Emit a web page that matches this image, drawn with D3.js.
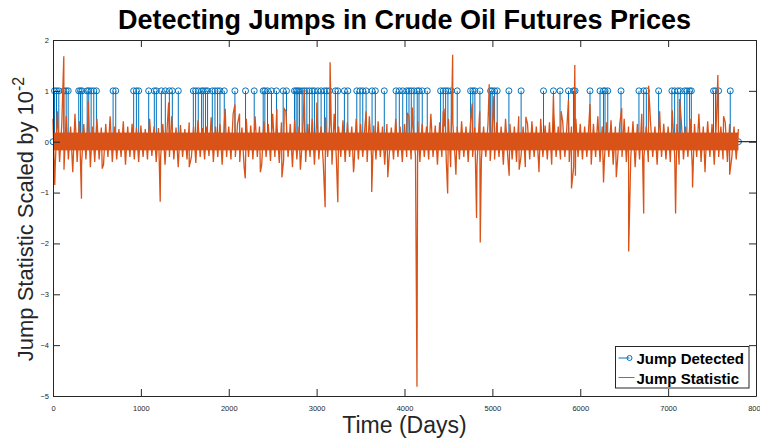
<!DOCTYPE html>
<html>
<head>
<meta charset="utf-8">
<script src="https://cdn.jsdelivr.net/npm/d3@7"></script>
<style>
  body { margin: 0; background: #fff; }
  text { font-family: "Liberation Sans", Arial, Helvetica, sans-serif; fill: #262626; }
</style>
</head>
<body>
<div id="myPlot" style="width:760px;height:439px"></div>
<script>
// x ticks (days) and y ticks (scaled by 1e-2)
const xTicks = [0, 1000, 2000, 3000, 4000, 5000, 6000, 7000, 8000]
const yTicks = [-5, -4, -3, -2, -1, 0, 1, 2]

// first and last day of the series
const firstDay = 0
const lastDay = 7800

// days where a jump was detected (stem value 1)
const jumpDays = [17, 40, 66, 123, 150, 173, 293, 313, 332, 389, 407, 434, 464, 494, 684, 714,
    918, 949, 975, 1089, 1153, 1176, 1233, 1278, 1324, 1358, 1426, 1597, 1623, 1653, 1691, 1710,
    1736, 1759, 1813, 1843, 1873, 1900, 1949, 2070, 2191, 2290, 2392, 2411, 2441, 2486, 2543, 2619,
    2657, 2748, 2767, 2786, 2805, 2835, 2861, 2889, 2918, 2949, 2975, 3014, 3051, 3089, 3116, 3145,
    3214, 3241, 3316, 3355, 3457, 3494, 3525, 3563, 3631, 3668, 3770, 3903, 3941, 3980, 4025, 4051,
    4077, 4108, 4145, 4165, 4202, 4259, 4411, 4441, 4468, 4494, 4532, 4600, 4752, 4778, 4801, 4858,
    4980, 4998, 5025, 5055, 5188, 5327, 5582, 5695, 5770, 5866, 5923, 5941, 6111, 6225, 6264, 6282,
    6313, 6464, 6668, 6722, 6752, 6892, 7043, 7074, 7111, 7139, 7188, 7214, 7244, 7264, 7517, 7540,
    7574, 7707]

// jump statistic: envelope of the dense band, one value pair per 50 days
const binDays = 50
const bandHi = [0.45, 0.6, 0.35, 0.5, 0.3, 0.55, 0.4, 0.35, 0.62, 0.3, 0.45, 0.28, 0.35, 0.5, 0.3, 0.25, 0.4, 0.3, 0.35, 0.28,
    0.32, 0.25, 0.45, 0.3, 0.27, 0.35, 0.3, 0.5, 0.28, 0.33, 0.25, 0.38, 0.3, 0.42, 0.27, 0.3, 0.48, 0.3, 0.35, 0.4,
    0.3, 0.55, 0.35, 0.28, 0.45, 0.32, 0.5, 0.3, 0.4, 0.35, 0.55, 0.3, 0.38, 0.6, 0.35, 0.42, 0.3, 0.5, 0.35, 0.45,
    0.4, 0.3, 0.48, 0.35, 0.55, 0.3, 0.42, 0.38, 0.3, 0.45, 0.35, 0.3, 0.5, 0.32, 0.4, 0.3, 0.35, 0.28, 0.45, 0.3,
    0.35, 0.5, 0.3, 0.4, 0.35, 0.3, 0.55, 0.32, 0.38, 0.3, 0.45, 0.35, 0.3, 0.4, 0.3, 0.35, 0.28, 0.42, 0.3, 0.35,
    0.3, 0.38, 0.3, 0.45, 0.35, 0.3, 0.5, 0.3, 0.35, 0.4, 0.3, 0.45, 0.32, 0.38, 0.55, 0.3, 0.4, 0.35, 0.3, 0.45,
    0.35, 0.3, 0.4, 0.35, 0.5, 0.3, 0.38, 0.42, 0.3, 0.35, 0.45, 0.3, 0.4, 0.35, 0.55, 0.3, 0.38, 0.3, 0.45, 0.35,
    0.3, 0.5, 0.35, 0.4, 0.3, 0.45, 0.35, 0.55, 0.3, 0.4, 0.35, 0.45, 0.3, 0.38, 0.35, 0.3, 0.25]
const bandLo = [-0.5, -0.4, -0.55, -0.35, -0.6, -0.4, -0.45, -0.35, -0.5, -0.4, -0.35, -0.45, -0.3, -0.4, -0.35, -0.3, -0.45, -0.3, -0.35, -0.4,
    -0.3, -0.35, -0.28, -0.4, -0.3, -0.45, -0.3, -0.35, -0.5, -0.3, -0.35, -0.3, -0.42, -0.3, -0.35, -0.28, -0.4, -0.3, -0.45, -0.3,
    -0.35, -0.3, -0.4, -0.5, -0.3, -0.35, -0.3, -0.45, -0.3, -0.38, -0.3, -0.42, -0.35, -0.3, -0.5, -0.35, -0.3, -0.4, -0.3, -0.45,
    -0.35, -0.4, -0.3, -0.45, -0.35, -0.3, -0.4, -0.3, -0.5, -0.35, -0.3, -0.4, -0.3, -0.35, -0.3, -0.45, -0.3, -0.35, -0.3, -0.4,
    -0.3, -0.35, -0.28, -0.4, -0.3, -0.35, -0.3, -0.45, -0.3, -0.35, -0.5, -0.3, -0.35, -0.3, -0.4, -0.3, -0.45, -0.35, -0.3, -0.38,
    -0.35, -0.3, -0.45, -0.3, -0.35, -0.4, -0.3, -0.5, -0.35, -0.3, -0.4, -0.3, -0.35, -0.45, -0.3, -0.35, -0.3, -0.4, -0.5, -0.3,
    -0.35, -0.3, -0.45, -0.3, -0.4, -0.35, -0.3, -0.45, -0.35, -0.3, -0.4, -0.3, -0.5, -0.35, -0.3, -0.4, -0.3, -0.45, -0.3, -0.35,
    -0.4, -0.3, -0.45, -0.35, -0.3, -0.5, -0.3, -0.4, -0.35, -0.3, -0.45, -0.3, -0.35, -0.4, -0.3, -0.35, -0.3]

// solid core of the band
const coreHi = 0.18
const coreLo = -0.17

// larger excursions of the jump statistic: day, value
const spikeDays = [20, 123, 324, 400, 560, 1220, 1316, 1550, 1960, 2070, 2123, 2188, 2360, 2548, 2605, 2631,
    2815, 2858, 3002, 3097, 3153, 3241, 3420, 3563, 3627, 3810, 4032, 4089, 4142, 4441, 4460, 4491,
    4548, 4585, 4770, 4820, 4856, 4862, 4964, 5017, 5191, 5305, 5381, 5530, 5695, 5782, 5866, 5900,
    5938, 5945, 6111, 6265, 6410, 6472, 6551, 6722, 6778, 6903, 7048, 7085, 7131, 7278, 7420, 7566,
    7631, 7700]
const spikeValues = [-0.85, 1.68, -1.12, 0.8, -0.53, -1.18, 0.77, -0.5, 0.65, 0.73, 0.55, -0.72, -0.6, 0.65, -0.7, 0.65,
    -0.55, 1.03, 0.77, -1.29, 1.56, -1.19, -0.6, 0.6, -0.99, -0.7, 0.57, 0.67, -4.82, 0.6, 0.65, -1.02,
    1.71, -0.65, 0.75, -1.5, 0.6, -1.98, 1.13, 0.9, -0.67, -0.55, 0.49, -0.6, 0.9, 0.6, 0.82, -0.92,
    1.51, -0.67, 0.74, -0.8, -0.7, 0.66, -2.16, -1.41, 1.1, 0.6, 0.62, -1.41, 0.84, -0.9, -0.6, 1.31,
    0.5, -0.65]

const rootSelector = "#myPlot"
const margin = {top: 40, right: 4, bottom: 43, left: 53}
const clientWidth = 760
const clientHeight = 439
const width = clientWidth - margin.left - margin.right
const height = clientHeight - margin.top - margin.bottom

const blue = "#0072BD"
const orange = "#D95319"
const axisColor = "#262626"

const svg = d3.select(rootSelector).append("svg")
    .attr("width", clientWidth)
    .attr("height", clientHeight)

const g = svg.append("g")
    .attr("transform", `translate(${margin.left}, ${margin.top})`)

const xScale = d3.scaleLinear().domain([0, 8000]).range([0, width])
const yScale = d3.scaleLinear().domain([-5, 2]).range([height, 0])

// stem series: jumps at 1, end points at 0
const stemData = jumpDays.map(d => [d, 1])
const stemZeros = [[firstDay, 0], [lastDay, 0]]

// statistic series built from the band envelope and the spikes
const statPoints = []
bandHi.forEach((v, i) => {
    statPoints.push([i * binDays, v])
    statPoints.push([i * binDays + binDays / 2, bandLo[i]])
})
spikeDays.forEach((d, i) => statPoints.push([d, spikeValues[i]]))
statPoints.sort((a, b) => a[0] - b[0])
const statSeries = statPoints.filter(p => p[0] <= lastDay)

// stems
g.append("g").selectAll("line")
    .data(stemData)
    .enter().append("line")
    .attr("x1", d => xScale(d[0]))
    .attr("x2", d => xScale(d[0]))
    .attr("y1", yScale(0))
    .attr("y2", d => yScale(d[1]))
    .attr("stroke", blue)
    .attr("stroke-width", 1)

g.append("g").selectAll("circle")
    .data(stemData.concat(stemZeros))
    .enter().append("circle")
    .attr("cx", d => xScale(d[0]))
    .attr("cy", d => yScale(d[1]))
    .attr("r", 3)
    .attr("fill", "none")
    .attr("stroke", blue)
    .attr("stroke-width", 1)

// stem baseline
g.append("line")
    .attr("x1", 0).attr("x2", width)
    .attr("y1", yScale(0)).attr("y2", yScale(0))
    .attr("stroke", "#000")
    .attr("stroke-width", 1)

// jump statistic: dense core, then the line itself
g.append("rect")
    .attr("x", xScale(firstDay))
    .attr("width", xScale(lastDay) - xScale(firstDay))
    .attr("y", yScale(coreHi))
    .attr("height", yScale(coreLo) - yScale(coreHi))
    .attr("fill", orange)

const line = d3.line()
    .x(d => xScale(d[0]))
    .y(d => yScale(d[1]))

g.append("path")
    .datum(statSeries)
    .attr("d", line)
    .attr("fill", "none")
    .attr("stroke", orange)
    .attr("stroke-width", 1.3)

// axes with inward ticks on all four sides
const tickLen = 7
const fmt = d3.format("d")
const xAxisBottom = d3.axisBottom(xScale).tickValues(xTicks).tickFormat(fmt).tickSizeInner(-tickLen).tickSizeOuter(0).tickPadding(10)
const xAxisTop = d3.axisTop(xScale).tickValues(xTicks).tickSizeInner(-tickLen).tickSizeOuter(0).tickFormat("")
const yAxisLeft = d3.axisLeft(yScale).tickValues(yTicks).tickFormat(fmt).tickSizeInner(-tickLen).tickSizeOuter(0).tickPadding(10)
const yAxisRight = d3.axisRight(yScale).tickValues(yTicks).tickSizeInner(-tickLen).tickSizeOuter(0).tickFormat("")

const styleAxis = sel => {
    sel.select(".domain").attr("stroke", axisColor).attr("stroke-width", 1)
    sel.selectAll(".tick line").attr("stroke", axisColor).attr("stroke-width", 1)
    sel.selectAll(".tick text")
        .attr("fill", axisColor)
        .style("font-family", "'Liberation Sans', Arial, sans-serif")
        .style("font-size", "7.5px")
}

g.append("g").attr("transform", `translate(0, ${height})`).call(xAxisBottom).call(styleAxis)
g.append("g").call(xAxisTop).call(styleAxis)
g.append("g").call(yAxisLeft).call(styleAxis)
    .selectAll(".tick text").attr("x", -4)
g.append("g").attr("transform", `translate(${width}, 0)`).call(yAxisRight).call(styleAxis)

// title and axis labels
svg.append("text")
    .attr("x", margin.left + width / 2)
    .attr("y", 29)
    .attr("text-anchor", "middle")
    .style("font-size", "27px")
    .style("font-weight", "bold")
    .style("fill", "#000")
    .text("Detecting Jumps in Crude Oil Futures Prices")

svg.append("text")
    .attr("x", margin.left + width / 2)
    .attr("y", 433)
    .attr("text-anchor", "middle")
    .style("font-size", "23px")
    .text("Time (Days)")

const yLabel = svg.append("text")
    .attr("transform", `translate(33, ${margin.top + height / 2 + 1}) rotate(-90)`)
    .attr("text-anchor", "middle")
    .style("font-size", "22px")
yLabel.append("tspan").text("Jump Statistic Scaled by 10")
yLabel.append("tspan").attr("dy", -9).style("font-size", "16px").text("-2")

// legend
const legend = svg.append("g").attr("transform", "translate(615.5, 346.5)")
legend.append("rect")
    .attr("width", 133.5)
    .attr("height", 41.5)
    .attr("fill", "#fff")
    .attr("stroke", axisColor)
    .attr("stroke-width", 1)

legend.append("line")
    .attr("x1", 3).attr("x2", 14)
    .attr("y1", 11.5).attr("y2", 11.5)
    .attr("stroke", blue).attr("stroke-width", 1)
legend.append("circle")
    .attr("cx", 14).attr("cy", 11.5).attr("r", 2.5)
    .attr("fill", "none").attr("stroke", blue).attr("stroke-width", 1)
legend.append("line")
    .attr("x1", 3).attr("x2", 19)
    .attr("y1", 31).attr("y2", 31)
    .attr("stroke", orange).attr("stroke-width", 1)

legend.append("text")
    .attr("x", 21).attr("y", 17)
    .style("font-size", "15px").style("font-weight", "bold").style("fill", "#000")
    .text("Jump Detected")
legend.append("text")
    .attr("x", 21).attr("y", 37)
    .style("font-size", "15px").style("font-weight", "bold").style("fill", "#000")
    .text("Jump Statistic")
</script>
</body>
</html>
